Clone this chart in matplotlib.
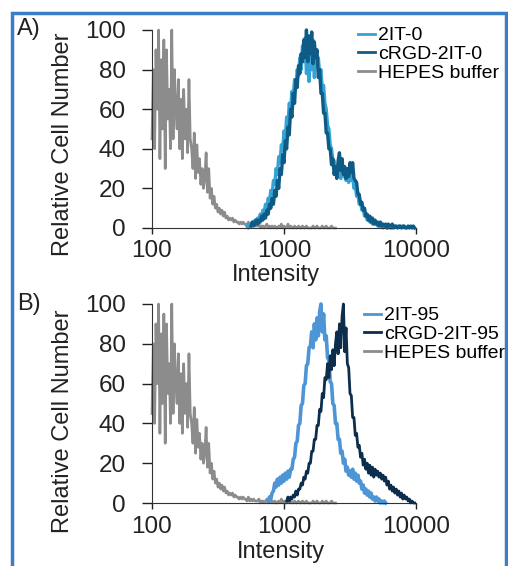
import numpy as np
import matplotlib
matplotlib.use("Agg")
import matplotlib.pyplot as plt
from matplotlib.patches import Rectangle

plt.rcParams['font.family'] = ['Liberation Sans', 'DejaVu Sans']

# histogram counts on log-spaced channels (step 0.01 decade), start = log10(intensity)
hepes_start = 2.00
hepes = [45, 80, 40, 90, 60, 100, 35, 85, 50, 95,
         30, 90, 55, 70, 40, 100, 45, 80, 60, 50,
         75, 40, 65, 35, 70, 45, 60, 38, 75, 45,
         40, 30, 48, 25, 42, 28, 35, 22, 30, 20,
         25, 38, 18, 30, 15, 20, 12, 16, 10, 12,
         8, 10, 7, 9, 6, 8, 5, 6, 4, 5,
         4, 5, 3, 4, 3, 3, 2, 3, 2, 3,
         2, 2, 1, 3, 1, 2, 1, 2, 1, 1,
         1, 2, 0, 1, 1, 0, 1, 2, 0, 1,
         0, 1, 0, 1, 0, 0, 1, 0, 2, 0,
         1, 0, 0, 2, 0, 1, 0, 0, 1, 0,
         0, 1, 0, 0, 1, 0, 0, 1, 0, 0,
         0, 0, 1, 0, 0, 1, 0, 0, 0, 1,
         0, 0, 1, 0, 0, 0, 1, 0, 0, 0]

it0_start = 2.72
it0 = [1, 0, 2, 1, 3, 2, 4, 3, 5, 4,
       7, 5, 9, 8, 12, 10, 15, 13, 19, 17,
       24, 22, 30, 27, 36, 33, 42, 39, 49, 45,
       56, 52, 63, 59, 69, 66, 75, 71, 80, 77,
       86, 80, 92, 84, 96, 78, 90, 74, 88, 80,
       95, 76, 90, 82, 86, 78, 80, 70, 72, 63,
       60, 52, 50, 42, 40, 34, 34, 28, 31, 26,
       30, 25, 32, 26, 30, 24, 29, 23, 28, 24,
       26, 20, 22, 16, 17, 12, 13, 9, 10, 6,
       7, 4, 5, 3, 4, 2, 3, 2, 2, 1,
       2, 1, 1, 0, 1, 1, 0, 1, 0, 0]

rgd0_start = 2.75
rgd0 = [1, 3, 1, 2, 4, 2, 4, 3, 6, 4,
        7, 5, 9, 7, 12, 10, 15, 12, 19, 16,
        24, 20, 30, 27, 37, 33, 44, 40, 51, 47,
        60, 56, 68, 63, 75, 71, 82, 78, 88, 84,
        95, 86, 100, 84, 97, 88, 99, 83, 94, 86,
        90, 76, 80, 68, 68, 58, 58, 48, 48, 40,
        40, 32, 35, 27, 31, 25, 34, 38, 29, 35,
        27, 31, 25, 30, 26, 33, 28, 33, 25, 24,
        23, 17, 17, 12, 13, 9, 10, 6, 7, 4,
        6, 3, 5, 2, 4, 2, 3, 1, 3, 1,
        2, 1, 2, 0, 2, 1, 1, 2, 0, 1,
        1, 0, 1, 1, 0, 1, 1, 0, 0, 1,
        0, 1, 0, 1, 0]

it95_start = 2.88
it95 = [1, 3, 2, 5, 6, 10, 8, 12, 9, 13,
        10, 14, 11, 15, 12, 16, 13, 17, 17, 22,
        23, 30, 31, 39, 40, 49, 50, 59, 60, 69,
        70, 78, 79, 86, 78, 90, 82, 93, 84, 96,
        100, 86, 95, 82, 84, 73, 72, 61, 60, 50,
        49, 40, 40, 32, 32, 25, 26, 20, 22, 16,
        18, 14, 16, 13, 17, 12, 15, 11, 14, 10,
        11, 7, 9, 5, 7, 4, 6, 3, 5, 2,
        3, 1, 3, 1, 2, 0, 1, 0, 1, 0]

rgd95_start = 3.02
rgd95 = [1, 3, 1, 3, 2, 4, 3, 6, 4, 7,
         7, 10, 9, 13, 12, 16, 15, 20, 20, 26,
         26, 32, 32, 39, 39, 47, 46, 55, 53, 63,
         62, 70, 63, 74, 67, 77, 69, 80, 86, 75,
         90, 78, 94, 100, 76, 88, 70, 68, 55, 54,
         43, 43, 34, 35, 28, 29, 23, 25, 19, 22,
         17, 20, 15, 19, 14, 18, 13, 17, 14, 16,
         13, 15, 12, 14, 11, 13, 9, 11, 7, 9,
         6, 8, 5, 7, 4, 6, 3, 5, 2, 4,
         2, 3, 1, 2, 0, 1, 0, 0]

yticks = [0, 20, 40, 60, 80, 100]
xticks = [100, 1000, 10000]


def channels(start, vals):
    n = len(vals)
    return np.logspace(start, start + 0.01 * (n - 1), n)


fig = plt.figure(figsize=(5.08, 5.66), dpi=100)
fig.patches.append(Rectangle((11.5 / 508, -0.02), (506 - 11.5) / 508, 1 - 13 / 566 + 0.02,
                             transform=fig.transFigure, fill=False,
                             edgecolor='#3b7dc6', linewidth=2.5))

panels = [
    dict(pos=[0.2992, 0.5972, 0.5197, 0.3498], tag='A)', tagy=1 - 18 / 566,
         series=[(it0_start, it0, '#35a2d6', '2IT-0', 2.4),
                 (rgd0_start, rgd0, '#0e5c85', 'cRGD-2IT-0', 2.4)],
         leg=(0.7047, 0.9525), xl=(-0.18, 0.47), yl=0.424),
    dict(pos=[0.2992, 0.1113, 0.5197, 0.3516], tag='B)', tagy=1 - 293 / 566,
         series=[(it95_start, it95, '#4d95d4', '2IT-95', 2.6),
                 (rgd95_start, rgd95, '#0d2d4d', 'cRGD-2IT-95', 2.0)],
         leg=(0.7165, 0.4578), xl=(-0.19, 0.49), yl=0.41),
]

for p in panels:
    ax = fig.add_axes(p['pos'])
    for i, (st, vals, col, lab, lw) in enumerate(p['series']):
        ax.plot(channels(st, vals), vals, color=col, lw=lw, label=lab,
                zorder=2 + i, clip_on=False)
    ax.plot(channels(hepes_start, hepes), hepes, color='#8c8c8c', lw=1.9,
            label='HEPES buffer', zorder=1, clip_on=False)
    ax.set_xscale('log')
    ax.set_xlim(100, 10000)
    ax.set_ylim(0, 100)
    ax.set_xticks(xticks)
    ax.set_xticklabels([str(t) for t in xticks])
    ax.minorticks_off()
    ax.set_yticks(yticks)
    ax.tick_params(axis='y', direction='out', length=7, width=1, pad=12,
                   labelsize=17.5, colors='#222222')
    ax.tick_params(axis='x', direction='out', length=4, width=1, pad=5,
                   labelsize=17.5, colors='#222222')
    for s in ['top', 'right']:
        ax.spines[s].set_visible(False)
    for s in ['left', 'bottom']:
        ax.spines[s].set_color('#333333')
    ax.set_xlabel('Intensity', fontsize=17, color='#222222')
    ax.xaxis.set_label_coords(p['xl'][1], p['xl'][0])
    ax.set_ylabel('Relative Cell Number', fontsize=17, color='#222222')
    ax.yaxis.set_label_coords(-0.295, p['yl'])
    leg = ax.legend(loc='upper left', bbox_to_anchor=p['leg'], bbox_transform=fig.transFigure,
                    frameon=False, fontsize=14, handlelength=0.85, handletextpad=0.2,
                    labelspacing=0.05, borderpad=0, borderaxespad=0)
    for h in leg.legend_handles:
        h.set_linewidth(2)
    fig.text(17 / 508, p['tagy'], p['tag'], fontsize=17, va='top', ha='left', color='#222222')

fig.savefig('out.png', dpi=100, facecolor='white')
